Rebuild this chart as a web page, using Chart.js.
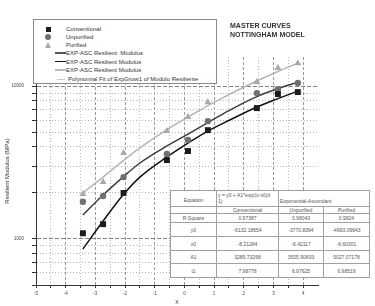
<!DOCTYPE html>
<html><head><meta charset="utf-8">
<script src="https://cdn.jsdelivr.net/npm/chart.js@4.4.1/dist/chart.umd.min.js"></script>
<style>
html,body{margin:0;padding:0;background:#fff;}
#wrap{position:relative;width:375px;height:306px;overflow:hidden;font-family:"Liberation Sans",Arial,sans-serif;}
#c{position:absolute;left:0;top:0;}
#legend{position:absolute;left:33px;top:19px;width:184px;height:65px;border:1px solid #8a8a8a;background:#fff;box-sizing:border-box;z-index:2;}
.li{position:absolute;left:32px;height:8px;font-size:6px;line-height:8px;color:#333;white-space:nowrap;}
.sym{position:absolute;}
.ttl{position:absolute;left:230px;font-size:7px;font-weight:bold;color:#333;line-height:8px;white-space:nowrap;z-index:2;}
#tbl{position:absolute;left:170px;top:190px;width:199px;border-collapse:collapse;table-layout:fixed;background:#fff;font-size:5px;line-height:6px;color:#555;z-index:2;}
#tbl td{border:1px solid #a0a0a0;padding:0;text-align:center;vertical-align:middle;overflow:visible;white-space:nowrap;}
</style>
</head><body>
<div id="wrap">
<canvas id="c" width="375" height="306"></canvas>
<div class="ttl" style="top:22px">MASTER CURVES</div>
<div class="ttl" style="top:30.5px">NOTTINGHAM MODEL</div>
<div id="legend">
  <div class="sym" style="left:11.5px;top:6.5px;width:5px;height:5px;background:#1c1c1c"></div>
  <div class="li" style="top:5px">Conventional</div>
  <div class="sym" style="left:11px;top:14px;width:6px;height:6px;border-radius:50%;background:#707070"></div>
  <div class="li" style="top:13px">Unpurified</div>
  <div class="sym" style="left:11px;top:21.5px;width:0;height:0;border-left:3.5px solid transparent;border-right:3.5px solid transparent;border-bottom:6px solid #a9a9a9"></div>
  <div class="li" style="top:21px">Purified</div>
  <div class="sym" style="left:21px;top:32px;width:11px;height:2px;background:#555"></div>
  <div class="li" style="top:29px">EXP-ASC Resilient&nbsp;&nbsp;Modulus</div>
  <div class="sym" style="left:21px;top:41px;width:11px;height:1.2px;background:#111"></div>
  <div class="li" style="top:37.5px">EXP-ASC Resilient Modulus</div>
  <div class="sym" style="left:21px;top:49px;width:11px;height:2px;background:#bbb"></div>
  <div class="li" style="top:46px">EXP-ASC Resilient Modulus</div>
  <div class="sym" style="left:23px;top:58.5px;width:8px;height:1px;background:#ccc"></div>
  <div class="li" style="top:54.5px;left:34px">Polynomial Fit of ExpGrow1 of Modulo Resiliente</div>
</div>
<table id="tbl"><colgroup><col style="width:46px"><col style="width:62px"><col style="width:45px"><col style="width:46px"></colgroup><tbody id="tb"></tbody></table>
</div>
<script>
// ---- data ----
const xMeasured = [-3.42, -2.74, -2.05, -0.59, 0.12, 0.79, 2.44, 3.15, 3.82];
const conventional = [1090, 1250, 2000, 3280, 3760, 5150, 7180, 8870, 9140];
const unpurified = [1750, 1910, 2540, 3600, 4440, 5900, 9000, 9550, 10470];
const purified = [1970, 2360, 3650, 5080, 6270, 7850, 10620, 13120, 14130];

const xFit = [-3.42, -2.74, -2.07, -1.50, -0.59, 0.12, 0.79, 1.53, 2.44, 3.15, 3.82];
const conventionalFit = [860, 1310, 1940, 2540, 3440, 4240, 5080, 6000, 7300, 8280, 9270];
const unpurifiedFit = [1435, 1940, 2540, 3140, 4060, 4850, 5770, 6970, 8540, 9630, 10620];
const purifiedFit = [2000, 2540, 3240, 3940, 5190, 6270, 7450, 8870, 10790, 12450, 14130];

const yTickValues = [500, 600, 700, 800, 900, 1000, 2000, 3000, 4000, 5000, 6000, 7000, 8000, 9000, 10000];
const yLabeledTicks = [1000, 10000];

const tableHeaders = ['Conventional', 'Unpurified', 'Purified'];
const rSquare = ['0.97387', '0.98043', '0.9924'];
const y0Vals = ['-6132.18654', '-3770.8394', '-4993.09643'];
const x0Vals = ['-8.21284', '-6.42117', '-6.60301'];
const a1Vals = ['3289.73268', '3505.90693', '5027.07178'];
const t1Vals = ['7.98778', '6.97625', '6.98519'];

// ---- table ----
(function(){
  const tb = document.getElementById('tb');
  let h = '<tr style="height:16px"><td style="vertical-align:bottom;padding-bottom:3px">Equation</td>' +
    '<td style="vertical-align:top;text-align:left;padding:1px 0 0 1px">y = y0 + A1*exp((x-x0)/t<br>1)</td>' +
    '<td colspan="2" style="text-align:left;vertical-align:bottom;padding:0 0 2px 1px">Exponential-Ascendant</td></tr>';
  h += '<tr style="height:7px"><td></td>' + tableHeaders.map(t => '<td>' + t + '</td>').join('') + '</tr>';
  const rows = [['R-Square', rSquare, 9], ['y0', y0Vals, 14], ['x0', x0Vals, 14], ['A1', a1Vals, 13], ['t1', t1Vals, 14]];
  rows.forEach(r => {
    h += '<tr style="height:' + r[2] + 'px"><td>' + r[0] + '</td>' + r[1].map(v => '<td>' + v + '</td>').join('') + '</tr>';
  });
  tb.innerHTML = h;
})();

// ---- chart ----
const FONT = '"Liberation Sans", Arial, sans-serif';
const pts = (xs, ys) => xs.map((x, i) => ({x: x, y: ys[i]}));
const T = 'rgba(0,0,0,0)';
const fitLine = (label, data, color, order) => ({
  label: label, type: 'line', data: data, showLine: true, borderColor: color, borderWidth: 1.5,
  pointRadius: 0, cubicInterpolationMode: 'monotone', fill: false, order: order
});

new Chart(document.getElementById('c').getContext('2d'), {
  type: 'scatter',
  data: {
    datasets: [
      {label: 'Conventional', data: pts(xMeasured, conventional), pointStyle: 'rect', pointRadius: 4.2,
       backgroundColor: '#1c1c1c', borderColor: '#1c1c1c', borderWidth: 0, order: 1},
      {label: 'Unpurified', data: pts(xMeasured, unpurified), pointStyle: 'circle', pointRadius: 3.2,
       backgroundColor: '#707070', borderColor: '#707070', borderWidth: 0, order: 2},
      {label: 'Purified', data: pts(xMeasured, purified), pointStyle: 'triangle', pointRadius: 4,
       backgroundColor: '#a9a9a9', borderColor: '#a9a9a9', borderWidth: 0, order: 3},
      fitLine('EXP-ASC Resilient  Modulus', pts(xFit, unpurifiedFit), '#3c3c3c', 5),
      fitLine('EXP-ASC Resilient Modulus', pts(xFit, conventionalFit), '#111', 4),
      fitLine('EXP-ASC Resilient Modulus', pts(xFit, purifiedFit), '#b5b5b5', 6)
    ]
  },
  options: {
    responsive: false,
    animation: false,
    layout: {padding: {left: 0, right: 57, top: 57, bottom: 0}},
    plugins: {legend: {display: false}, tooltip: {enabled: false}},
    scales: {
      x: {
        type: 'linear', min: -5, max: 4.5,
        afterFit: s => { s.height = 21; },
        ticks: {stepSize: 0.5, autoSkip: false, maxRotation: 0, padding: 3, color: '#444',
                font: {size: 4.5, family: FONT},
                callback: v => Number.isInteger(v) ? String(v) : ''},
        grid: {
          lineWidth: 1, tickLength: 3,
          color: c => {
            if (!c.tick) return T;
            const v = c.tick.value;
            if (v === 4.5 || v === -5) return T;
            return Number.isInteger(v) ? '#9a9a9a' : '#bcbcbc';
          },
          tickColor: c => (c.tick && c.tick.value === 4.5) ? T : '#333',
          tickBorderDash: []
        },
        border: {display: true, color: '#333', width: 1,
                 dash: c => c.tick ? (Number.isInteger(c.tick.value) ? [3, 2] : [1, 2]) : []},
        title: {display: true, text: 'X', color: '#333', font: {size: 5, family: FONT}, padding: 0}
      },
      y: {
        type: 'logarithmic', min: 500, max: 15500,
        afterFit: s => { s.width = 36; },
        afterBuildTicks: s => { s.ticks = yTickValues.map(v => ({value: v})); },
        ticks: {autoSkip: false, padding: 8, color: '#444', font: {size: 4.5, family: FONT},
                callback: v => yLabeledTicks.includes(v) ? String(v) : ''},
        grid: {
          lineWidth: 1, tickLength: 4,
          color: c => {
            if (!c.tick) return T;
            const v = c.tick.value;
            if (v === 500) return T;
            return yLabeledTicks.includes(v) ? '#858585' : '#b8b8b8';
          },
          tickColor: '#333', tickBorderDash: []
        },
        border: {display: true, color: '#333', width: 1,
                 dash: c => c.tick ? (yLabeledTicks.includes(c.tick.value) ? [4, 2] : [1, 2]) : []},
        title: {display: true, text: 'Resilient Modulus (MPa)', color: '#333',
                font: {size: 6, family: FONT}, padding: {top: 4, bottom: 0}}
      }
    }
  }
});
</script>
</body></html>
